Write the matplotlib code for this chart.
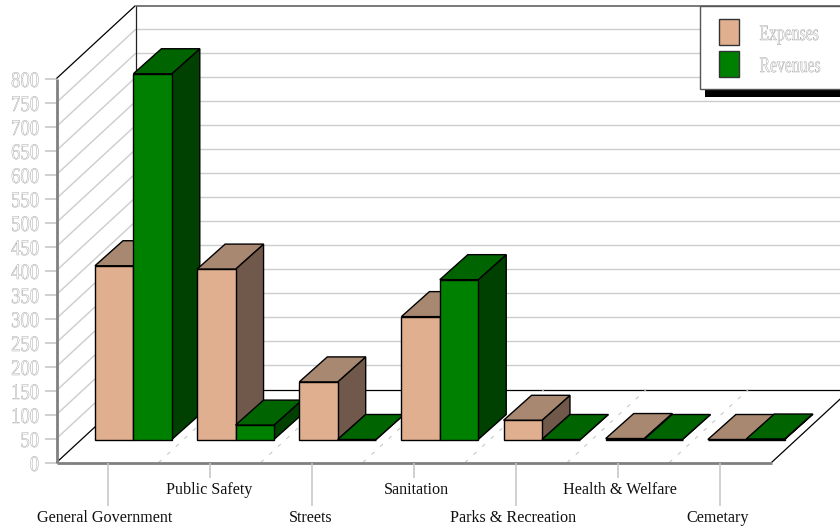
import matplotlib.pyplot as plt
from matplotlib.patches import Polygon, Rectangle
from matplotlib.patheffects import AbstractPathEffect
from matplotlib.transforms import Affine2D


CATEGORIES = ["General Government", "Public Safety", "Streets", "Sanitation",
              "Parks & Recreation", "Health & Welfare", "Cemetary"]
EXPENSES = [362, 355, 120, 256, 40, 2, 0]
REVENUES = [762, 30, 0, 333, 0, 0, 1]
Y_TICKS = [0, 50, 100, 150, 200, 250, 300, 350, 400, 450, 500, 550, 600, 650, 700, 750, 800]

EXPENSE_COLORS = ("#e0af8f", "#a88870", "#70584a")
REVENUE_COLORS = ("#008000", "#006400", "#004000")

# chart frame, in figure pixels
LEFT, RIGHT, FLOOR_Y = 57, 772, 463
UNITS_PX = 0.48
DX, DY = 79, -73
CAT_W = (RIGHT - LEFT) / 7
BAR_W, BAR_DX, BAR_DY = 38.4, 28, -25
BAR_BASE = 440
SERIF = "Liberation Serif"


class HollowNarrow(AbstractPathEffect):
    """Draw glyphs rescaled about their origin, white with a thin gray outline."""

    def __init__(self, sx, sy=1.0, color="#8c8c8c", lw=0.26):
        super().__init__()
        self.sx = sx
        self.sy = sy
        self.color = color
        self.lw = lw

    def draw_path(self, renderer, gc, tpath, affine, rgbFace=None):
        scaled = Affine2D().scale(self.sx, self.sy) + affine
        outline = renderer.new_gc()
        outline.copy_properties(gc)
        outline.set_foreground(self.color)
        outline.set_linewidth(self.lw)
        renderer.draw_path(outline, tpath, scaled, (1, 1, 1, 1))
        outline.restore()


def line(ax, xs, ys, color="black", lw=0.9, **kw):
    ax.plot(xs, ys, color=color, lw=lw, solid_capstyle="butt", **kw)


def draw_bar(ax, x, value, colors, z):
    front, top, side = colors
    y = BAR_BASE - value * UNITS_PX
    edge = dict(edgecolor="black", linewidth=1.0, joinstyle="miter", zorder=z)
    ax.add_patch(Polygon([(x + BAR_W, BAR_BASE), (x + BAR_W + BAR_DX, BAR_BASE + BAR_DY),
                          (x + BAR_W + BAR_DX, y + BAR_DY), (x + BAR_W, y)],
                         facecolor=side, **edge))
    ax.add_patch(Polygon([(x, y), (x + BAR_DX, y + BAR_DY),
                          (x + BAR_W + BAR_DX, y + BAR_DY), (x + BAR_W, y)],
                         facecolor=top, **edge))
    ax.add_patch(Rectangle((x, y), BAR_W, BAR_BASE - y, facecolor=front, **edge))


def main() -> None:
    fig = plt.figure(figsize=(8.4, 5.31), dpi=100)
    ax = fig.add_axes([0, 0, 1, 1])
    ax.set_xlim(0.5, 840.5)
    ax.set_ylim(531.5, 0.5)
    ax.axis("off")

    # walls and grid
    for tick in Y_TICKS:
        y = FLOOR_Y - tick * UNITS_PX
        if 0 < tick < 800:
            line(ax, [LEFT, LEFT + DX, 841], [y, y + DY, y + DY], color="#cccccc", lw=1.0)
        line(ax, [45, LEFT], [y, y], color="#c4c4c4", lw=1.1)
        label = str(tick)
        ax.text(39.5 - 9.3 * len(label), y + 8.5, label, family=SERIF, fontsize=16,
                ha="left", va="baseline", path_effects=[HollowNarrow(0.84)])

    top_y = FLOOR_Y - 800 * UNITS_PX
    line(ax, [LEFT, LEFT + DX], [top_y, top_y + DY])
    line(ax, [LEFT + DX, 841], [top_y + DY, top_y + DY], color="#555555", lw=1.1)
    line(ax, [LEFT + DX, LEFT + DX], [top_y + DY, FLOOR_Y + DY], color="#222222")
    line(ax, [LEFT + DX, 841], [FLOOR_Y + DY, FLOOR_Y + DY])
    line(ax, [LEFT, LEFT + DX], [FLOOR_Y, FLOOR_Y + DY])
    line(ax, [RIGHT, RIGHT + DX], [FLOOR_Y, FLOOR_Y + DY])

    # dashed floor separators between the categories
    for i in range(1, 7):
        x = LEFT + CAT_W * i
        ax.plot([x, x + DX], [FLOOR_Y, FLOOR_Y + DY], color="#c8c8c8", lw=0.8,
                dashes=(3.5, 7), dash_capstyle="butt")

    line(ax, [LEFT, LEFT], [top_y, FLOOR_Y], color="#808080", lw=2.0)
    line(ax, [LEFT, RIGHT], [FLOOR_Y, FLOOR_Y], color="#808080", lw=2.0)

    # category ticks and staggered labels
    label_shift = [-3, -1, -1.5, 2.5, -3, 1.5, -2.5]
    for i, name in enumerate(CATEGORIES):
        x = LEFT + CAT_W * (i + 0.5)
        odd = i % 2 == 1
        line(ax, [x, x], [FLOOR_Y, 478 if odd else 506], color="#c4c4c4", lw=1.1)
        ax.text(x + label_shift[i], 491 if odd else 519, name, family=SERIF, fontsize=11.6,
                color="#111111", ha="center", va="center")

    # bars, left to right so nearer ones overlap correctly
    for i in range(len(CATEGORIES)):
        x = 95.5 + CAT_W * i
        draw_bar(ax, x, EXPENSES[i], EXPENSE_COLORS, 3 + i * 0.1)
        draw_bar(ax, x + BAR_W, REVENUES[i], REVENUE_COLORS, 3.05 + i * 0.1)

    # legend box with its drop shadow
    ax.add_patch(Rectangle((705, 89), 140, 8, facecolor="black", edgecolor="none", zorder=5))
    ax.add_patch(Rectangle((700.5, 6), 145, 83, facecolor="white", edgecolor="#555555",
                           linewidth=1.0, zorder=6))
    for y, label, color in [(19, "Expenses", EXPENSE_COLORS[0]), (51, "Revenues", REVENUE_COLORS[0])]:
        ax.add_patch(Rectangle((719.5, y), 19.5, 26, facecolor=color, edgecolor="#333333",
                               linewidth=1.0, zorder=7))
        ax.text(760, y + 21.5, label, family=SERIF, fontsize=14.5, ha="left", va="baseline",
                zorder=7, path_effects=[HollowNarrow(0.78, 1.1)])

    fig.savefig("out.png", dpi=100, facecolor="white")


if __name__ == "__main__":
    main()
